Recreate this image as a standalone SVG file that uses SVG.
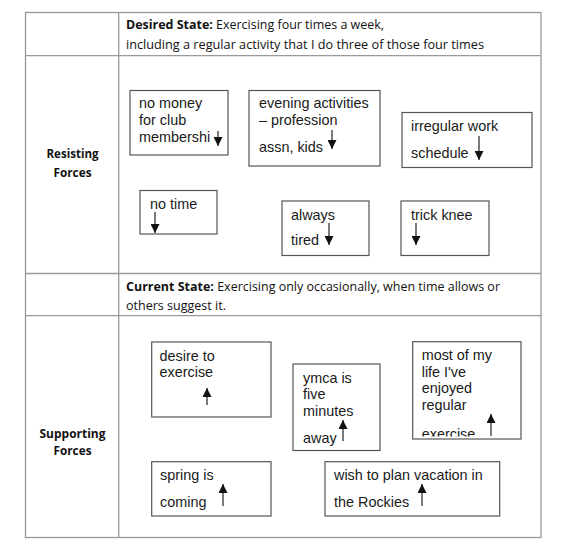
<svg xmlns="http://www.w3.org/2000/svg" width="574" height="560" viewBox="0 0 574 560">
<style>
.grid{stroke:#9a9a9a;stroke-width:1.3;fill:none}
.box rect{fill:#fff;stroke:#555;stroke-width:1.2}
.box text{font-family:"Liberation Sans",Arial,sans-serif;font-size:14.4px;fill:#1a1a1a}
.cal{font-family:"Open Sans","Noto Sans",sans-serif;font-size:12px;fill:#111}
.hd{font-family:"Open Sans","Noto Sans",sans-serif;font-size:12px;font-weight:bold;fill:#111}
.arr{stroke:#222;stroke-width:1.2;fill:none;marker-end:url(#ah)}
</style>
<defs>
<marker id="ah" viewBox="0 0 8 8" refX="8" refY="4" markerWidth="9" markerHeight="9" markerUnits="userSpaceOnUse" orient="auto">
<path d="M0,0 L8,4 L0,8 z" fill="#111"/>
</marker>
<clipPath id="c9"><rect x="413" y="342" width="108" height="94.5"/></clipPath>
</defs>
<rect width="574" height="560" fill="#fff"/>
<g id="table">
<rect class="grid" x="25.5" y="12.5" width="515.5" height="525"/>
<line class="grid" x1="118.7" y1="12.5" x2="118.7" y2="537.5"/>
<line class="grid" x1="25.5" y1="55.7" x2="541" y2="55.7"/>
<line class="grid" x1="25.5" y1="273.5" x2="541" y2="273.5"/>
<line class="grid" x1="25.5" y1="315.7" x2="541" y2="315.7"/>
<text class="cal" x="126" y="29" textLength="258" lengthAdjust="spacingAndGlyphs"><tspan font-weight="bold">Desired State:</tspan> Exercising four times a week,</text>
<text class="cal" x="126" y="48.5" textLength="358" lengthAdjust="spacingAndGlyphs">including a regular activity that I do three of those four times</text>
<text class="hd" x="72.5" y="158" text-anchor="middle" textLength="52" lengthAdjust="spacingAndGlyphs">Resisting</text>
<text class="hd" x="72.5" y="176.5" text-anchor="middle" textLength="38" lengthAdjust="spacingAndGlyphs">Forces</text>
<text class="cal" x="126" y="291" textLength="374" lengthAdjust="spacingAndGlyphs"><tspan font-weight="bold">Current State:</tspan> Exercising only occasionally, when time allows or</text>
<text class="cal" x="126" y="309.5" textLength="100" lengthAdjust="spacingAndGlyphs">others suggest it.</text>
<text class="hd" x="72.5" y="437.5" text-anchor="middle" textLength="66" lengthAdjust="spacingAndGlyphs">Supporting</text>
<text class="hd" x="72.5" y="455" text-anchor="middle" textLength="38" lengthAdjust="spacingAndGlyphs">Forces</text>
</g>
<g id="n1" class="box"><rect x="130" y="90.5" width="98" height="64.5"/>
<text x="139" y="108">no money</text><text x="139" y="125">for club</text><text x="139" y="142">membershi</text></g>
<g id="n2" class="box"><rect x="249" y="90.5" width="131" height="75.5"/>
<text x="259" y="108">evening activities</text><text x="259" y="125">– profession</text><text x="259" y="152">assn, kids</text></g>
<g id="n3" class="box"><rect x="402" y="112.5" width="130" height="55"/>
<text x="411" y="131">irregular work</text><text x="411" y="158">schedule</text></g>
<g id="n4" class="box"><rect x="140" y="190.5" width="77" height="43.5"/>
<text x="150" y="209">no time</text></g>
<g id="n5" class="box"><rect x="282" y="201" width="87" height="54.5"/>
<text x="291" y="219.5">always</text><text x="291" y="245">tired</text></g>
<g id="n6" class="box"><rect x="401" y="201" width="88" height="54.5"/>
<text x="411" y="219.5">trick knee</text></g>
<g id="n7" class="box"><rect x="151.7" y="342" width="119.3" height="75"/>
<text x="159.5" y="360.5">desire to</text><text x="159.5" y="377">exercise</text></g>
<g id="n8" class="box"><rect x="293" y="364" width="87" height="86.5"/>
<text x="303" y="382.5">ymca is</text><text x="303" y="399">five</text><text x="303" y="415.5">minutes</text><text x="303" y="442.5">away</text></g>
<g id="n9" class="box"><rect x="412.7" y="341.7" width="108.3" height="97.3"/>
<g clip-path="url(#c9)"><text x="421.7" y="360">most of my</text><text x="421.7" y="376.5">life I've</text><text x="421.7" y="393">enjoyed</text><text x="421.7" y="410">regular</text><text x="421.7" y="438.5">exercise</text></g></g>
<g id="n10" class="box"><rect x="151.7" y="461.7" width="119.3" height="54.3"/>
<text x="160" y="480">spring is</text><text x="160" y="506.5">coming</text></g>
<g id="n11" class="box"><rect x="325" y="461.7" width="174.7" height="54.3"/>
<text x="334" y="480">wish to plan vacation in</text><text x="334" y="506.5">the Rockies</text></g>
<g id="connectors">
<line class="arr" x1="218" y1="131" x2="218" y2="146"/>
<line class="arr" x1="332" y1="130" x2="332" y2="149"/>
<line class="arr" x1="479" y1="136" x2="479" y2="160"/>
<line class="arr" x1="155" y1="212" x2="155" y2="233"/>
<line class="arr" x1="329" y1="223" x2="329" y2="245"/>
<line class="arr" x1="416" y1="223" x2="416" y2="245"/>
<line class="arr" x1="207" y1="405" x2="207" y2="388"/>
<line class="arr" x1="343" y1="441" x2="343" y2="420"/>
<line class="arr" x1="491" y1="436" x2="491" y2="414"/>
<line class="arr" x1="223" y1="506" x2="223" y2="484"/>
<line class="arr" x1="422" y1="506" x2="422" y2="484"/>
</g>
</svg>
